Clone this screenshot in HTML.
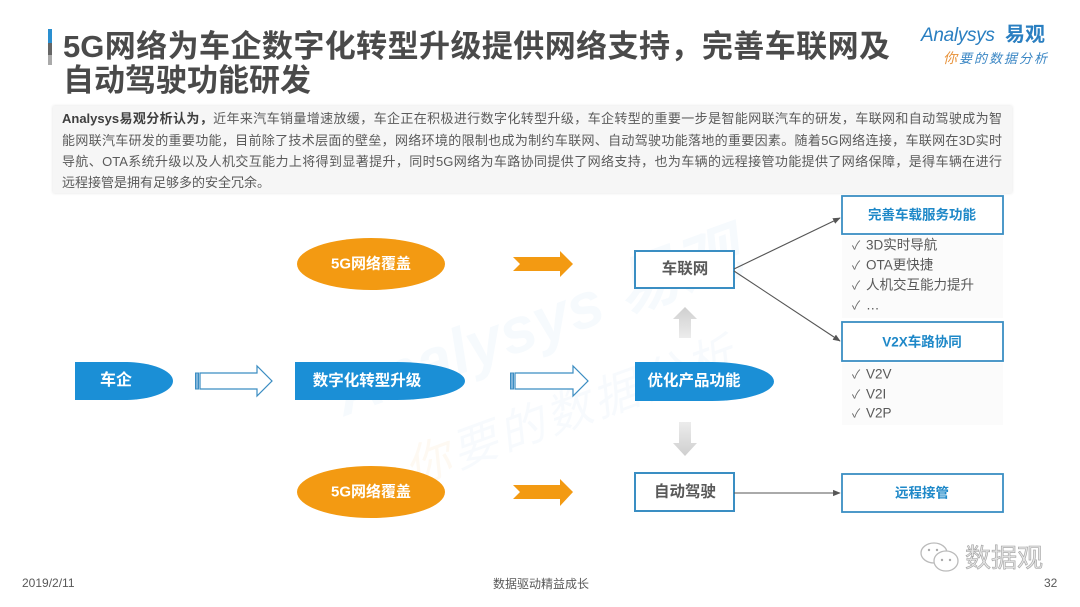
<!DOCTYPE html>
<html lang="zh">
<head>
<meta charset="utf-8">
<style>
html,body{margin:0;padding:0;}
body{width:1080px;height:607px;position:relative;overflow:hidden;background:#fff;font-family:"Liberation Sans","Noto Sans CJK SC",sans-serif;}
.a{position:absolute;white-space:nowrap;}
.c{position:absolute;white-space:nowrap;transform:translate(-50%,-50%);text-align:center;line-height:1;}
.title{position:absolute;left:63px;font-size:31px;font-weight:bold;color:#4a4a4a;line-height:31px;}
.dl{position:absolute;left:62px;width:940px;font-size:13px;line-height:20px;color:#5a5a5a;text-align:justify;text-align-last:justify;}
.li{position:absolute;left:852px;font-size:13.5px;color:#595959;line-height:1;transform:translateY(-50%);white-space:nowrap;}
.li span{display:inline-block;width:14px;font-size:12px;color:#666;}
.bt{font-weight:bold;color:#1e88c8;font-size:13.5px;}
.wt{font-weight:bold;color:#fff;}
</style>
</head>
<body>

<!-- watermark -->
<div class="a" style="left:335px;top:345px;font-size:64px;font-style:italic;color:rgba(40,130,210,0.045);transform:rotate(-20deg);transform-origin:left center;font-weight:bold;">Analysys 易观</div>
<div class="a" style="left:405px;top:435px;font-size:46px;font-style:italic;color:rgba(40,130,210,0.04);transform:rotate(-20deg);transform-origin:left center;letter-spacing:4px;"><span style="color:rgba(240,150,40,0.06)">你</span>要的数据分析</div>

<!-- title bar -->
<div class="a" style="left:48px;top:29px;width:4px;height:14px;background:#2a8fd0;"></div>
<div class="a" style="left:48px;top:43px;width:4px;height:12px;background:#666;"></div>
<div class="a" style="left:48px;top:55px;width:4px;height:10px;background:#aaa;"></div>

<div class="title" style="top:31px;width:827px;text-align:justify;text-align-last:justify;">5G网络为车企数字化转型升级提供网络支持，完善车联网及</div>
<div class="title" style="top:65px;">自动驾驶功能研发</div>

<!-- logo -->
<div class="a" style="left:921px;top:25px;font-size:19px;font-style:italic;color:#2a7fc1;line-height:22px;letter-spacing:-0.3px;">Analysys</div>
<div class="a" style="left:1005px;top:24px;font-size:20px;font-weight:bold;color:#2a7fc1;line-height:22px;">易观</div>
<div class="a" style="left:943px;top:51px;font-size:13px;font-style:italic;color:#3a86c4;line-height:15px;letter-spacing:2px;"><span style="color:#e8923a;font-size:14px;">你</span>要的数据分析</div>

<!-- description box -->
<div class="a" style="left:53px;top:106px;width:959px;height:87px;background:#f6f6f6;box-shadow:0 0 3px rgba(0,0,0,0.12);"></div>
<div class="dl" style="top:108px;line-height:21px;"><b style="color:#3f3f3f;">Analysys易观分析认为，</b>近年来汽车销量增速放缓，车企正在积极进行数字化转型升级，车企转型的重要一步是智能网联汽车的研发，车联网和自动驾驶成为智</div>
<div class="dl" style="top:130px;line-height:21px;">能网联汽车研发的重要功能，目前除了技术层面的壁垒，网络环境的限制也成为制约车联网、自动驾驶功能落地的重要因素。随着5G网络连接，车联网在3D实时</div>
<div class="dl" style="top:151px;line-height:21px;">导航、OTA系统升级以及人机交互能力上将得到显著提升，同时5G网络为车路协同提供了网络支持，也为车辆的远程接管功能提供了网络保障，是得车辆在进行</div>
<div class="dl" style="top:172px;line-height:21px;text-align-last:left;">远程接管是拥有足够多的安全冗余。</div>

<!-- diagram shapes -->
<svg class="a" style="left:0;top:0;" width="1080" height="607" viewBox="0 0 1080 607">
  <defs>
    <marker id="ah" viewBox="0 0 10 10" refX="9" refY="5" markerWidth="7" markerHeight="7" orient="auto">
      <path d="M0,1 L10,5 L0,9 Z" fill="#555"/>
    </marker>
    <linearGradient id="gu" x1="0" y1="0" x2="0" y2="1">
      <stop offset="0" stop-color="#cfcfcf"/>
      <stop offset="1" stop-color="#ececec"/>
    </linearGradient>
    <linearGradient id="gd" x1="0" y1="0" x2="0" y2="1">
      <stop offset="0" stop-color="#ececec"/>
      <stop offset="1" stop-color="#cfcfcf"/>
    </linearGradient>
  </defs>

  <!-- list backgrounds -->
  <rect x="842" y="236" width="161" height="82" fill="#fbfbfb"/>
  <rect x="842" y="363" width="161" height="62" fill="#fbfbfb"/>

  <!-- orange ellipses -->
  <ellipse cx="371" cy="264" rx="74" ry="26" fill="#F39A12"/>
  <ellipse cx="371" cy="492" rx="74" ry="26" fill="#F39A12"/>

  <!-- orange arrows -->
  <polygon points="513,257 560,257 560,251 573,264 560,277 560,271 513,271 520,264" fill="#F39A12"/>
  <polygon points="513,485 560,485 560,479 573,492 560,506 560,499 513,499 520,492" fill="#F39A12"/>

  <!-- blue bullets -->
  <path d="M75,362 H125 A48,19 0 0 1 125,400 H75 Z" fill="#1B8FD6"/>
  <path d="M295,362 H397 A68,19 0 0 1 397,400 H295 Z" fill="#1B8FD6"/>
  <path d="M635,362 H712 A62,19.5 0 0 1 712,401 H635 Z" fill="#1B8FD6"/>

  <!-- hollow arrows -->
  <polygon points="200,373 257,373 257,366 272,381 257,396 257,389 200,389" fill="#fff" stroke="#3B8DC2" stroke-width="1.2"/>
  <rect x="195.5" y="373" width="3" height="16" fill="#7fb4da" stroke="#3B8DC2" stroke-width="1"/>
  <polygon points="515,373 573,373 573,366 588,381 573,396 573,389 515,389" fill="#fff" stroke="#3B8DC2" stroke-width="1.2"/>
  <rect x="510.5" y="373" width="3" height="16" fill="#7fb4da" stroke="#3B8DC2" stroke-width="1"/>

  <!-- grey arrows -->
  <polygon points="685,307 697,319 691,319 691,338 679,338 679,319 673,319" fill="url(#gu)"/>
  <polygon points="679,422 691,422 691,443 697,443 685,456 673,443 679,443" fill="url(#gd)"/>

  <!-- boxes -->
  <rect x="635" y="251" width="99" height="37" fill="#fff" stroke="#3A8EC3" stroke-width="2"/>
  <rect x="635" y="473" width="99" height="38" fill="#fff" stroke="#3A8EC3" stroke-width="2"/>
  <rect x="842" y="196" width="161" height="38" fill="#fff" stroke="#3A8EC3" stroke-width="1.8"/>
  <rect x="842" y="322" width="161" height="39" fill="#fff" stroke="#3A8EC3" stroke-width="1.8"/>
  <rect x="842" y="474" width="161" height="38" fill="#fff" stroke="#3A8EC3" stroke-width="1.8"/>

  <!-- connectors -->
  <line x1="734" y1="269" x2="840" y2="218" stroke="#555" stroke-width="1.1" marker-end="url(#ah)"/>
  <line x1="734" y1="271" x2="840" y2="341" stroke="#555" stroke-width="1.1" marker-end="url(#ah)"/>
  <line x1="734" y1="493" x2="840" y2="493" stroke="#555" stroke-width="1.1" marker-end="url(#ah)"/>

  <!-- wechat icon -->
  <ellipse cx="934" cy="553" rx="13" ry="10" fill="#fff" stroke="#bbb" stroke-width="1.3"/>
  <ellipse cx="946" cy="561" rx="12" ry="10" fill="#fff" stroke="#bbb" stroke-width="1.3"/>
  <circle cx="942" cy="560" r="1.2" fill="#aaa"/>
  <circle cx="950" cy="560" r="1.2" fill="#aaa"/>
  <circle cx="929" cy="550" r="1.2" fill="#aaa"/>
  <circle cx="937" cy="550" r="1.2" fill="#aaa"/>
</svg>

<!-- diagram text -->
<div class="c wt" style="left:116px;top:381px;font-size:16px;">车企</div>
<div class="c wt" style="left:367px;top:381px;font-size:15.5px;">数字化转型升级</div>
<div class="c wt" style="left:694px;top:381px;font-size:15.5px;">优化产品功能</div>
<div class="c wt" style="left:371px;top:264px;font-size:15px;">5G网络覆盖</div>
<div class="c wt" style="left:371px;top:492px;font-size:15px;">5G网络覆盖</div>
<div class="c" style="left:685px;top:269px;font-size:15.5px;font-weight:bold;color:#595959;">车联网</div>
<div class="c" style="left:685px;top:492px;font-size:15.5px;font-weight:bold;color:#595959;">自动驾驶</div>
<div class="c bt" style="left:922px;top:215px;">完善车载服务功能</div>
<div class="c bt" style="left:922px;top:342px;">V2X车路协同</div>
<div class="c bt" style="left:922px;top:493px;">远程接管</div>

<div class="li" style="top:245px;"><span>✓</span>3D实时导航</div>
<div class="li" style="top:265px;"><span>✓</span>OTA更快捷</div>
<div class="li" style="top:285px;"><span>✓</span>人机交互能力提升</div>
<div class="li" style="top:305px;"><span>✓</span>…</div>
<div class="li" style="top:374px;"><span>✓</span>V2V</div>
<div class="li" style="top:394px;"><span>✓</span>V2I</div>
<div class="li" style="top:413px;"><span>✓</span>V2P</div>

<!-- footer -->
<div class="a" style="left:965px;top:543px;font-size:26px;line-height:30px;color:#e6e6e6;-webkit-text-stroke:0.6px #a0a0a0;">数据观</div>
<div class="a" style="left:22px;top:576px;font-size:12px;line-height:14px;color:#595959;">2019/2/11</div>
<div class="c" style="left:541px;top:584px;font-size:12px;color:#595959;">数据驱动精益成长</div>
<div class="a" style="left:1044px;top:576px;font-size:12px;line-height:14px;color:#595959;">32</div>

</body>
</html>
